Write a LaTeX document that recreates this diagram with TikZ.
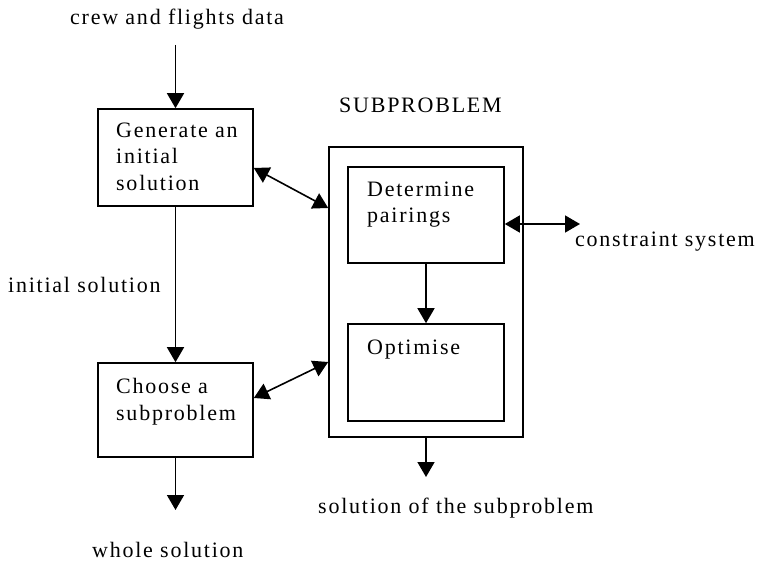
\documentclass[tikz,border=0pt]{standalone}
\usepackage{fontspec}
\setmainfont{Liberation Serif}[LetterSpace=8]
\usetikzlibrary{arrows.meta}
\begin{document}
\begin{tikzpicture}[x=1pt,y=-1pt,
  box/.style={draw,line width=1.6pt,minimum width=#1,inner sep=0pt},
  lbl/.style={anchor=base west,inner sep=0pt,font=\fontsize{22}{26}\selectfont},
  flow/.style={line width=1.6pt,-{Triangle[length=15pt,width=17pt]}},
  both/.style={line width=1.6pt,{Triangle[length=15pt,width=17pt]}-{Triangle[length=15pt,width=17pt]}}]
\useasboundingbox (0,0) rectangle (757,561);

% left column boxes
\node[box=155pt,minimum height=97pt] (gen) at (175.5,157.5) {};
\node[box=155pt,minimum height=94pt] (choose) at (175.5,410) {};
% subproblem frame and its two steps
\node[box=194pt,minimum height=290pt] (sub) at (426,292) {};
\node[box=156pt,minimum height=96pt] (det) at (426,215) {};
\node[box=156pt,minimum height=97pt] (opt) at (426,372.5) {};

% texts
\node[lbl] (t1) at (70,25) {crew and flights data};
\node[lbl] at (116,138) {Generate an};
\node[lbl] at (116,164) {initial};
\node[lbl] at (116,191) {solution};
\node[lbl] (t2) at (8,292) {initial solution};
\node[lbl] at (116,393) {Choose a};
\node[lbl] at (116,420) {subproblem};
\node[lbl] (t3) at (92,557) {whole solution};
\node[lbl] (t4) at (339,113) {SUBPROBLEM};
\node[lbl] at (367,197) {Determine};
\node[lbl] at (367,223) {pairings};
\node[lbl] at (367,354) {Optimise};
\node[lbl] (t5) at (318,513) {solution of the subproblem};
\node[lbl,anchor=base east] (t6) at (755,247) {constraint system};

% free ends of the open connectors
\coordinate (in) at (175.5,45);
\coordinate (out) at (175.5,510);
\coordinate (subout) at (426,477);
\coordinate (cons) at (580,224);

% connectors
\draw[flow] (in) -- (gen.north);
\draw[flow] (gen.south) -- (choose.north);
\draw[flow] (choose.south) -- (out);
\draw[both] ([yshift=-10.5pt]gen.east) -- ([yshift=84pt]sub.west);
\draw[both] ([yshift=12pt]choose.east) -- ([yshift=-70pt]sub.west);
\draw[flow] (det.south) -- (opt.north);
\draw[flow] (sub.south) -- (subout);
\draw[both] ([yshift=-9pt]det.east) -- (cons);
\end{tikzpicture}
\end{document}
